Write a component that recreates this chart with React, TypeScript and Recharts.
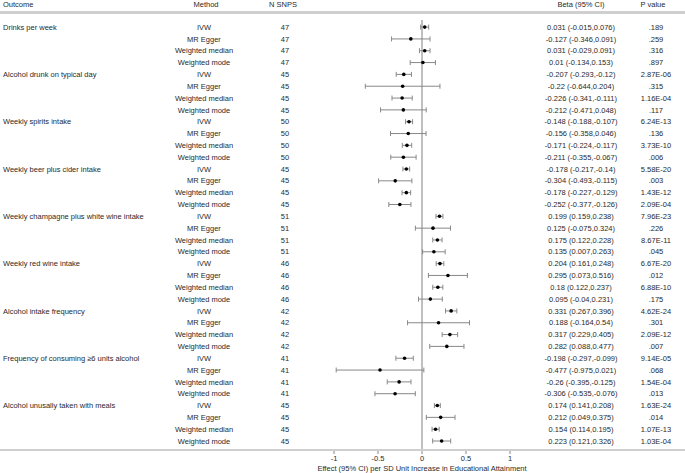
import React from "react";
import { ScatterChart, Scatter, XAxis, YAxis, ErrorBar, ReferenceLine } from "recharts";

const outcomes = [
  "Drinks per week",
  "Alcohol drunk on typical day",
  "Weekly spirits intake",
  "Weekly beer plus cider intake",
  "Weekly champagne plus white wine intake",
  "Weekly red wine intake",
  "Alcohol intake frequency",
  "Frequency of consuming \u22656  units alcohol",
  "Alcohol unusally taken with meals",
];
const methods = ["IVW", "MR Egger", "Weighted median", "Weighted mode"];
const nSnps = [47, 45, 50, 45, 51, 46, 42, 41, 45];

const betas = [
  [0.031, -0.127, 0.031, 0.01],
  [-0.207, -0.22, -0.226, -0.212],
  [-0.148, -0.156, -0.171, -0.211],
  [-0.178, -0.304, -0.178, -0.252],
  [0.199, 0.125, 0.175, 0.135],
  [0.204, 0.295, 0.18, 0.095],
  [0.331, 0.188, 0.317, 0.282],
  [-0.198, -0.477, -0.26, -0.306],
  [0.174, 0.212, 0.154, 0.223],
];
const lowers = [
  [-0.015, -0.346, -0.029, -0.134],
  [-0.293, -0.644, -0.341, -0.471],
  [-0.188, -0.358, -0.224, -0.355],
  [-0.217, -0.493, -0.227, -0.377],
  [0.159, -0.075, 0.122, 0.007],
  [0.161, 0.073, 0.122, -0.04],
  [0.267, -0.164, 0.229, 0.088],
  [-0.297, -0.975, -0.395, -0.535],
  [0.141, 0.049, 0.114, 0.121],
];
const uppers = [
  [0.076, 0.091, 0.091, 0.153],
  [-0.12, 0.204, -0.111, 0.048],
  [-0.107, 0.046, -0.117, -0.067],
  [-0.14, -0.115, -0.129, -0.126],
  [0.238, 0.324, 0.228, 0.263],
  [0.248, 0.516, 0.237, 0.231],
  [0.396, 0.54, 0.405, 0.477],
  [-0.099, 0.021, -0.125, -0.076],
  [0.208, 0.375, 0.195, 0.326],
];
const pValues = [
  [".189", ".259", ".316", ".897"],
  ["2.87E-06", ".315", "1.16E-04", ".117"],
  ["6.24E-13", ".136", "3.73E-10", ".006"],
  ["5.58E-20", ".003", "1.43E-12", "2.09E-04"],
  ["7.96E-23", ".226", "8.67E-11", ".045"],
  ["6.67E-20", ".012", "6.88E-10", ".175"],
  ["4.62E-24", ".301", "2.09E-12", ".007"],
  ["9.14E-05", ".068", "1.54E-04", ".013"],
  ["1.63E-24", ".014", "1.07E-13", "1.03E-04"],
];
const xTicks = [-1, -0.5, 0, 0.5, 1];

const FONT = '"Liberation Sans", Arial, sans-serif';
const TEXT = "#2a2a2a";
const FS = 7.5;

const rows = outcomes.flatMap((outcome, i) =>
  methods.map((method, j) => ({
    row: i * 4 + j,
    outcome: j === 0 ? outcome : "",
    method,
    n: nSnps[i],
    beta: betas[i][j],
    label: `${betas[i][j]} (${lowers[i][j]},${uppers[i][j]})`,
    p: pValues[i][j],
    err: [betas[i][j] - lowers[i][j], uppers[i][j] - betas[i][j]],
  }))
);

// draws the table columns for a row at the y that the scale gives it
function RowText(props: any) {
  const { cy, payload } = props;
  if (!payload) return null;
  return (
    <g fontFamily={FONT} fontSize={FS} fill={TEXT}>
      <text x={3} y={cy} dy="0.35em">{payload.outcome}</text>
      <text x={204} y={cy} dy="0.35em" textAnchor="middle">{payload.method}</text>
      <text x={285} y={cy} dy="0.35em" textAnchor="middle">{payload.n}</text>
      <text x={581} y={cy} dy="0.35em" textAnchor="middle">{payload.label}</text>
      <text x={656} y={cy} dy="0.35em" textAnchor="middle">{payload.p}</text>
    </g>
  );
}

const Dot = (p: any) => <circle cx={p.cx} cy={p.cy} r={1.8} fill="#000" />;

const header = (text: string, x: number, center = true) => (
  <div
    style={{
      position: "absolute",
      top: 0,
      left: x,
      height: 10,
      lineHeight: "10px",
      fontSize: FS,
      fontFamily: FONT,
      color: TEXT,
      whiteSpace: "nowrap",
      transform: center ? "translateX(-50%)" : undefined,
    }}
  >
    {text}
  </div>
);

export default function App() {
  return (
    <div style={{ position: "absolute", left: 0, top: 0, width: 685, height: 473, background: "#fff" }}>
      <ScatterChart width={685} height={473} margin={{ top: 20, right: 175, bottom: 0, left: 334 }}>
        <XAxis
          type="number"
          dataKey="beta"
          domain={[-1, 1]}
          ticks={xTicks}
          axisLine={false}
          tickLine={{ stroke: "#888" }}
          tickSize={4}
          height={23}
          tick={{ fontSize: FS, fill: TEXT, fontFamily: FONT }}
          label={{
            value: "Effect (95% CI) per SD Unit Increase in Educational Attainment",
            position: "insideBottom",
            offset: 2,
            style: { fontSize: FS, fill: TEXT, fontFamily: FONT },
          }}
        />
        <YAxis type="number" dataKey="row" domain={[-0.6, 35.76]} reversed hide />
        <ReferenceLine x={0} stroke="#aaa" strokeWidth={1.5} />
        <Scatter data={rows} shape={RowText} isAnimationActive={false} />
        <Scatter data={rows} shape={Dot} isAnimationActive={false}>
          <ErrorBar dataKey="err" direction="x" width={2.5} stroke="#888" strokeWidth={1} />
        </Scatter>
      </ScatterChart>
      <div style={{ position: "absolute", left: 0, top: 11, width: 685, height: 3, background: "#cfcfcf" }} />
      <div style={{ position: "absolute", left: 0, top: 449, width: 685, height: 2, background: "#cfcfcf" }} />
      {header("Outcome", 3, false)}
      {header("Method", 206)}
      {header("N SNPS", 283)}
      {header("Beta (95% CI)", 581)}
      {header("P value", 653)}
    </div>
  );
}
